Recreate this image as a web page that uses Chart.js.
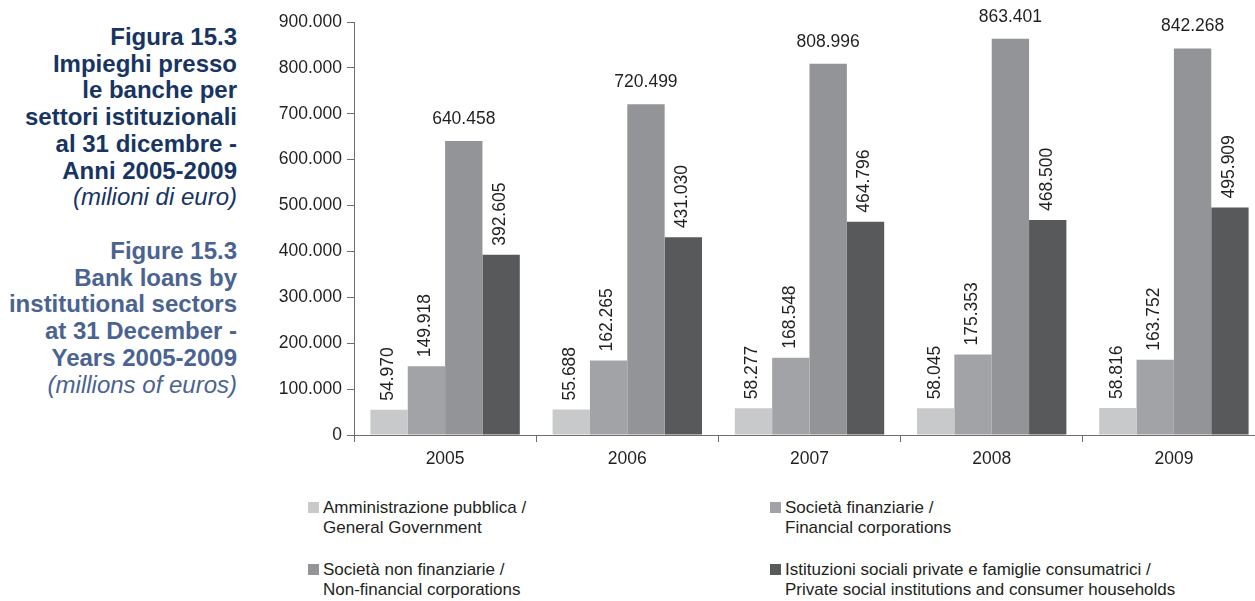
<!DOCTYPE html>
<html>
<head>
<meta charset="utf-8">
<script src="https://cdn.jsdelivr.net/npm/chart.js@4"></script>
<style>
  html, body { margin: 0; padding: 0; background: #fff; overflow: hidden; width: 1255px; height: 601px; }
  body { position: relative; font-family: "Liberation Sans", Arial, sans-serif; }
  #chart { position: absolute; left: 0; top: 0; }
  .title { position: absolute; left: 0; width: 237px; text-align: right; font-size: 24px; line-height: 26.7px; font-weight: bold; white-space: nowrap; }
  .title i { font-weight: normal; }
  .it { top: 24px; color: #173463; }
  .en { top: 238px; color: #4a6391; }
  .legend { position: absolute; font-size: 17px; line-height: 20px; color: #231f20; white-space: nowrap; }
  .legend .box { position: absolute; left: -15px; top: 4px; width: 11px; height: 11px; }
</style>
</head>
<body>
<div class="title it">Figura 15.3<br>Impieghi presso<br>le banche per<br>settori istituzionali<br>al 31 dicembre -<br>Anni 2005-2009<br><i>(milioni di euro)</i></div>
<div class="title en">Figure 15.3<br>Bank loans by<br>institutional sectors<br>at 31 December -<br>Years 2005-2009<br><i>(millions of euros)</i></div>
<canvas id="chart" width="1268" height="475"></canvas>
<div id="legend"></div>
<script>
const years = ['2005', '2006', '2007', '2008', '2009'];
const seriesNames = [
  ['Amministrazione pubblica /', 'General Government'],
  ['Società finanziarie /', 'Financial corporations'],
  ['Società non finanziarie /', 'Non-financial corporations'],
  ['Istituzioni sociali private e famiglie consumatrici /', 'Private social institutions and consumer households']
];
const govValues = [54970, 55688, 58277, 58045, 58816];
const finValues = [149918, 162265, 168548, 175353, 163752];
const nonFinValues = [640458, 720499, 808996, 863401, 842268];
const householdValues = [392605, 431030, 464796, 468500, 495909];
const colors = ['#c8c9cb', '#a2a3a6', '#939497', '#58595b'];

const fmt = n => String(n).replace(/\B(?=(\d{3})+(?!\d))/g, '.');
const FONT = '"Liberation Sans", Arial, sans-serif';

// bar value labels: 3rd series horizontal, the others rotated
const valueLabels = {
  id: 'valueLabels',
  afterDatasetsDraw(chart) {
    const ctx = chart.ctx;
    chart.data.datasets.forEach((ds, i) => {
      chart.getDatasetMeta(i).data.forEach((bar, j) => {
        const text = fmt(ds.data[j]);
        ctx.save();
        ctx.fillStyle = '#231f20';
        ctx.font = '17.5px ' + FONT;
        if (i === 2) {
          ctx.textAlign = 'center';
          ctx.textBaseline = 'middle';
          ctx.fillText(text, bar.x, bar.y - 22);
        } else {
          ctx.translate(bar.x - 1, bar.y - 9);
          ctx.rotate(-Math.PI / 2);
          ctx.textAlign = 'left';
          ctx.textBaseline = 'middle';
          ctx.fillText(text, 0, 0);
        }
        ctx.restore();
      });
    });
  }
};

new Chart(document.getElementById('chart'), {
  type: 'bar',
  data: {
    labels: years,
    datasets: [govValues, finValues, nonFinValues, householdValues].map((d, i) => ({
      label: seriesNames[i].join(' '),
      data: d,
      backgroundColor: colors[i],
      borderWidth: 0,
      categoryPercentage: 0.82,
      barPercentage: 1.0
    }))
  },
  options: {
    responsive: false,
    animation: false,
    layout: { padding: { top: 22, left: 0, right: 3, bottom: 0 } },
    plugins: { legend: { display: false }, tooltip: { enabled: false } },
    scales: {
      x: {
        grid: { display: true, drawOnChartArea: false, drawTicks: true, tickLength: 7, color: '#6d6e70', offset: true },
        border: { color: '#6d6e70', width: 1 },
        ticks: { color: '#231f20', font: { size: 17.5, family: FONT }, padding: 7 },
        afterFit: s => { s.height = 40; }
      },
      y: {
        min: 0,
        max: 900000,
        grid: { display: true, drawOnChartArea: false, drawTicks: true, tickLength: 7, color: '#6d6e70' },
        border: { color: '#6d6e70', width: 1 },
        ticks: { stepSize: 100000, color: '#231f20', font: { size: 17.5, family: FONT }, padding: 5, callback: v => fmt(v) },
        afterFit: s => { s.width = 354; }
      }
    }
  },
  plugins: [valueLabels]
});

// legend, two columns
const legendPos = [[323, 498], [785, 498], [323, 560], [785, 560]];
const legend = document.getElementById('legend');
seriesNames.forEach((lines, i) => {
  const el = document.createElement('div');
  el.className = 'legend';
  el.style.left = legendPos[i][0] + 'px';
  el.style.top = legendPos[i][1] + 'px';
  el.innerHTML = '<span class="box" style="background:' + colors[i] + '"></span>' + lines.join('<br>');
  legend.appendChild(el);
});
</script>
</body>
</html>
